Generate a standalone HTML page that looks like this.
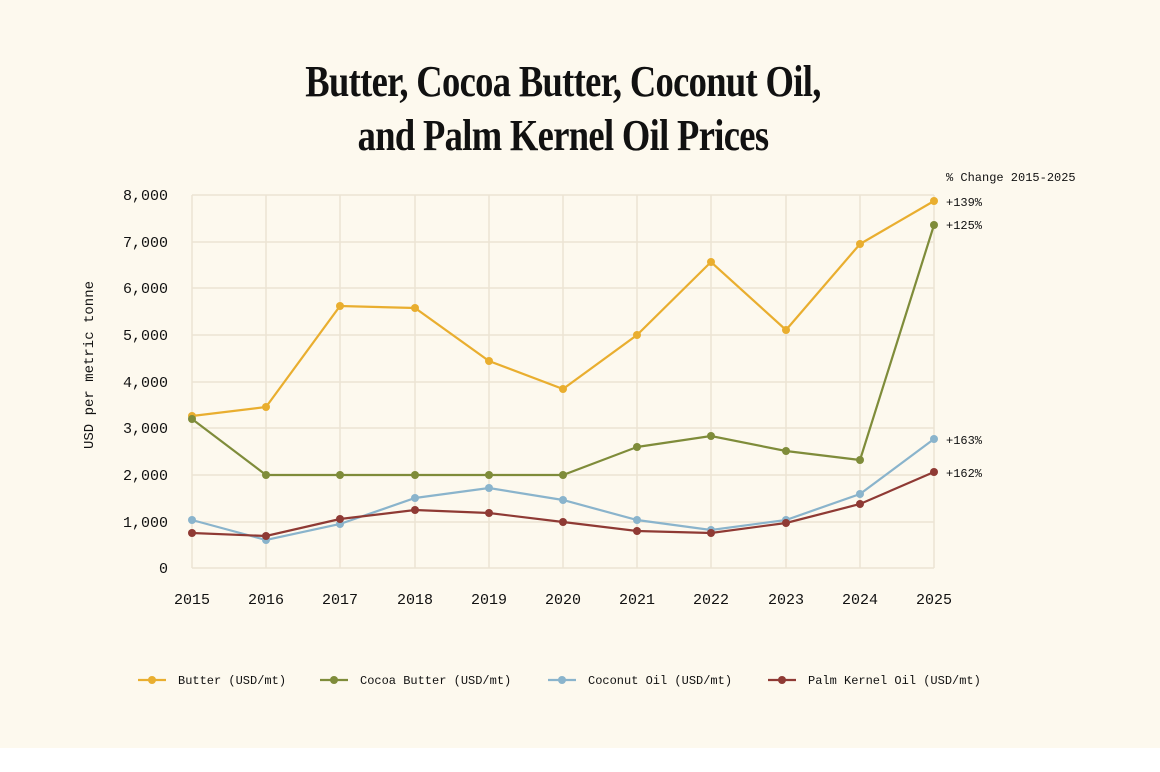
<!DOCTYPE html>
<html><head><meta charset="utf-8"><style>
html,body{margin:0;padding:0;background:#fff}
#w{position:relative;width:1160px;height:772px;background:#fff;overflow:hidden}
#bg{position:absolute;left:0;top:0;width:1160px;height:748px;background:#fdf9ee}
.t{position:absolute;left:0;width:1126px;text-align:center;font-family:"Liberation Serif",serif;font-weight:bold;font-size:44px;color:#111;transform:scaleX(0.83);transform-origin:563px 0;letter-spacing:-0.8px}
svg{position:absolute;left:0;top:0}
svg text{font-family:"Liberation Mono",monospace;fill:#111}
</style></head><body><div id="w"><div id="bg"></div>
<div class="t" style="top:56px">Butter, Cocoa Butter, Coconut Oil,</div>
<div class="t" style="top:110px">and Palm Kernel Oil Prices</div>
<svg width="1160" height="772" viewBox="0 0 1160 772">
<g stroke="#ece4d3" stroke-width="1.5" fill="none">
<path d="M192 195H934M192 242H934M192 288H934M192 335H934M192 382H934M192 428H934M192 475H934M192 522H934M192 568H934"/>
<path d="M192 195V568M266 195V568M340 195V568M415 195V568M489 195V568M563 195V568M637 195V568M711 195V568M786 195V568M860 195V568M934 195V568"/>
</g>
<g font-size="15" text-anchor="end">
<text x="168" y="200">8,000</text><text x="168" y="247">7,000</text><text x="168" y="293">6,000</text><text x="168" y="340">5,000</text><text x="168" y="387">4,000</text><text x="168" y="433">3,000</text><text x="168" y="480">2,000</text><text x="168" y="527">1,000</text><text x="168" y="573">0</text>
</g>
<g font-size="15" text-anchor="middle">
<text x="192" y="604">2015</text><text x="266" y="604">2016</text><text x="340" y="604">2017</text><text x="415" y="604">2018</text><text x="489" y="604">2019</text><text x="563" y="604">2020</text><text x="637" y="604">2021</text><text x="711" y="604">2022</text><text x="786" y="604">2023</text><text x="860" y="604">2024</text><text x="934" y="604">2025</text>
</g>
<text font-size="14" transform="translate(93,365) rotate(-90)" text-anchor="middle">USD per metric tonne</text>
<text x="946" y="181" font-size="12">% Change 2015-2025</text>
<g font-size="12"><text x="946" y="206">+139%</text><text x="946" y="229">+125%</text><text x="946" y="444">+163%</text><text x="946" y="477">+162%</text></g>
<g fill="none" stroke-width="2.2">
<polyline stroke="#e9ae2f" points="192,416 266,407 340,306 415,308 489,361 563,389 637,335 711,262 786,330 860,244 934,201"/>
<polyline stroke="#7f8c3a" points="192,419 266,475 340,475 415,475 489,475 563,475 637,447 711,436 786,451 860,460 934,225"/>
<polyline stroke="#8ab4cc" points="192,520 266,540 340,524 415,498 489,488 563,500 637,520 711,530 786,520 860,494 934,439"/>
<polyline stroke="#8f3a34" points="192,533 266,536 340,519 415,510 489,513 563,522 637,531 711,533 786,523 860,504 934,472"/>
</g>
<g fill="#e9ae2f"><circle cx="192" cy="416" r="4"/><circle cx="266" cy="407" r="4"/><circle cx="340" cy="306" r="4"/><circle cx="415" cy="308" r="4"/><circle cx="489" cy="361" r="4"/><circle cx="563" cy="389" r="4"/><circle cx="637" cy="335" r="4"/><circle cx="711" cy="262" r="4"/><circle cx="786" cy="330" r="4"/><circle cx="860" cy="244" r="4"/><circle cx="934" cy="201" r="4"/></g>
<g fill="#7f8c3a"><circle cx="192" cy="419" r="4"/><circle cx="266" cy="475" r="4"/><circle cx="340" cy="475" r="4"/><circle cx="415" cy="475" r="4"/><circle cx="489" cy="475" r="4"/><circle cx="563" cy="475" r="4"/><circle cx="637" cy="447" r="4"/><circle cx="711" cy="436" r="4"/><circle cx="786" cy="451" r="4"/><circle cx="860" cy="460" r="4"/><circle cx="934" cy="225" r="4"/></g>
<g fill="#8ab4cc"><circle cx="192" cy="520" r="4"/><circle cx="266" cy="540" r="4"/><circle cx="340" cy="524" r="4"/><circle cx="415" cy="498" r="4"/><circle cx="489" cy="488" r="4"/><circle cx="563" cy="500" r="4"/><circle cx="637" cy="520" r="4"/><circle cx="711" cy="530" r="4"/><circle cx="786" cy="520" r="4"/><circle cx="860" cy="494" r="4"/><circle cx="934" cy="439" r="4"/></g>
<g fill="#8f3a34"><circle cx="192" cy="533" r="4"/><circle cx="266" cy="536" r="4"/><circle cx="340" cy="519" r="4"/><circle cx="415" cy="510" r="4"/><circle cx="489" cy="513" r="4"/><circle cx="563" cy="522" r="4"/><circle cx="637" cy="531" r="4"/><circle cx="711" cy="533" r="4"/><circle cx="786" cy="523" r="4"/><circle cx="860" cy="504" r="4"/><circle cx="934" cy="472" r="4"/></g>
<g stroke-width="2.2">
<line x1="138" y1="680" x2="166" y2="680" stroke="#e9ae2f"/><circle cx="152" cy="680" r="4" fill="#e9ae2f"/>
<line x1="320" y1="680" x2="348" y2="680" stroke="#7f8c3a"/><circle cx="334" cy="680" r="4" fill="#7f8c3a"/>
<line x1="548" y1="680" x2="576" y2="680" stroke="#8ab4cc"/><circle cx="562" cy="680" r="4" fill="#8ab4cc"/>
<line x1="768" y1="680" x2="796" y2="680" stroke="#8f3a34"/><circle cx="782" cy="680" r="4" fill="#8f3a34"/>
</g>
<g font-size="12"><text x="178" y="684">Butter (USD/mt)</text><text x="360" y="684">Cocoa Butter (USD/mt)</text><text x="588" y="684">Coconut Oil (USD/mt)</text><text x="808" y="684">Palm Kernel Oil (USD/mt)</text></g>
</svg></div></body></html>
